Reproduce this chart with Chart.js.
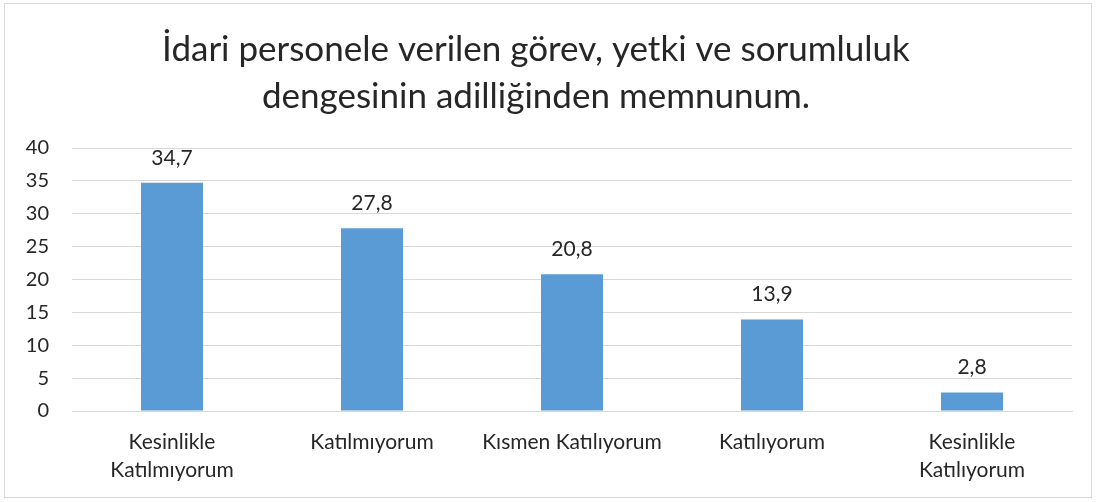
<!DOCTYPE html>
<html>
<head>
<meta charset="utf-8">
<script src="https://cdn.jsdelivr.net/npm/chart.js@4"></script>
<style>
  html, body { margin: 0; padding: 0; background: #fff; }
  #wrap { position: relative; width: 1096px; height: 502px; }
  #chart { display: block; }
  #frame { position: absolute; left: 4px; top: 3px; width: 1086px; height: 493px; border: 1px solid #d9d9d9; pointer-events: none; }
</style>
</head>
<body>
<div id="wrap">
  <canvas id="chart" width="1096" height="502"></canvas>
  <div id="frame"></div>
</div>
<script>
// ── DATA ────────────────────────────────────────────────────────────────────
const categories = [
  ['Kesinlikle', 'Katılmıyorum'],
  'Katılmıyorum',
  'Kısmen Katılıyorum',
  'Katılıyorum',
  ['Kesinlikle', 'Katılıyorum']
];
const values = [34.7, 27.8, 20.8, 13.9, 2.8];
const titleLines = [
  'İdari personele verilen görev, yetki ve sorumluluk',
  'dengesinin adilliğinden memnunum.'
];
const yMax = 40;
const yStep = 5;

const FONT = 'Lato, "Open Sans", sans-serif';
const TEXT = '#262626';

// value labels above bars, comma decimals
const valueLabels = {
  id: 'valueLabels',
  afterDatasetsDraw(chart) {
    const { ctx } = chart;
    const meta = chart.getDatasetMeta(0);
    ctx.save();
    ctx.font = '21px ' + FONT;
    ctx.fillStyle = TEXT;
    ctx.textAlign = 'center';
    ctx.textBaseline = 'middle';
    meta.data.forEach((bar, i) => {
      ctx.fillText(values[i].toFixed(1).replace('.', ','), bar.x, bar.y - 25);
    });
    ctx.restore();
  }
};

new Chart(document.getElementById('chart').getContext('2d'), {
  type: 'bar',
  data: {
    labels: categories,
    datasets: [{
      data: values,
      backgroundColor: '#5b9bd5',
      borderWidth: 0,
      barPercentage: 0.62,
      categoryPercentage: 0.5
    }]
  },
  options: {
    responsive: false,
    animation: false,
    layout: { padding: { left: 0, right: 24, top: 0, bottom: 0 } },
    plugins: {
      legend: { display: false },
      tooltip: { enabled: false },
      title: {
        display: true,
        text: titleLines,
        color: TEXT,
        font: { family: FONT, size: 35, weight: 'normal', lineHeight: 1.343 },
        padding: { top: 26, bottom: 28 }
      }
    },
    scales: {
      x: {
        afterFit(scale) { scale.height = 91; },
        grid: { display: false, drawTicks: false },
        border: { display: true, color: '#d9d9d9', width: 1 },
        ticks: {
          color: TEXT, padding: 17, maxRotation: 0, autoSkip: false,
          font: { family: FONT, size: 21, lineHeight: 1.333 }
        }
      },
      y: {
        min: 0, max: yMax,
        afterFit(scale) { scale.width = 72; },
        grid: { color: '#d9d9d9', drawTicks: false },
        border: { display: false },
        ticks: {
          stepSize: yStep, color: TEXT, padding: 23,
          font: { family: FONT, size: 20 }
        }
      }
    }
  },
  plugins: [valueLabels]
});
</script>
</body>
</html>
